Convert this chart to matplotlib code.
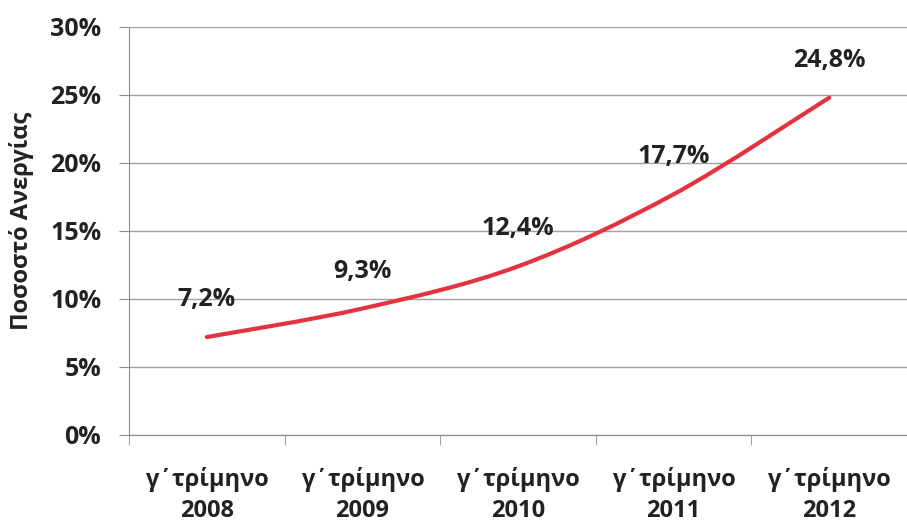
import numpy as np
import matplotlib
matplotlib.use('Agg')
import matplotlib.pyplot as plt
from matplotlib.path import Path
from matplotlib.patches import PathPatch

plt.rcParams['font.family'] = ['Open Sans', 'DejaVu Sans']

# data
quarters = ['γ΄τρίμηνο\n2008', 'γ΄τρίμηνο\n2009', 'γ΄τρίμηνο\n2010',
            'γ΄τρίμηνο\n2011', 'γ΄τρίμηνο\n2012']
rates = [7.2, 9.3, 12.4, 17.7, 24.8]
rate_labels = ['7,2%', '9,3%', '12,4%', '17,7%', '24,8%']
yticks = [0, 5, 10, 15, 20, 25, 30]

fig = plt.figure(figsize=(9.07, 5.24), dpi=100)
ax = fig.add_axes([129 / 907, 89 / 524, 1 - 129 / 907, 408 / 524])

x = np.arange(len(rates))
y = np.array(rates)

# smoothed line (bezier through the data points, like Excel's smoothing)
verts = [(x[0], y[0])]
codes = [Path.MOVETO]
t = 1 / 6
for i in range(len(x) - 1):
    p0 = (x[max(i - 1, 0)], y[max(i - 1, 0)])
    p1 = (x[i], y[i])
    p2 = (x[i + 1], y[i + 1])
    p3 = (x[min(i + 2, len(x) - 1)], y[min(i + 2, len(x) - 1)])
    c1 = (p1[0] + (p2[0] - p0[0]) * t, p1[1] + (p2[1] - p0[1]) * t)
    c2 = (p2[0] - (p3[0] - p1[0]) * t, p2[1] - (p3[1] - p1[1]) * t)
    verts += [c1, c2, p2]
    codes += [Path.CURVE4] * 3
ax.add_patch(PathPatch(Path(verts, codes), fill=False, edgecolor='#e5323f',
                       lw=3, capstyle='round', zorder=3))

for xi, yi, lab in zip(x, y, rate_labels):
    ax.annotate(lab, (xi, yi), xytext=(0, 27), textcoords='offset points',
                ha='center', va='center', fontsize=18, fontweight='bold',
                color='#222222')

ax.set_xlim(-0.5, 4.455)
ax.set_ylim(0, 30)
ax.set_yticks(yticks)
ax.set_yticklabels([f'{v}%' for v in yticks])
ax.set_xticks(x)
ax.set_xticklabels(quarters)
ax.set_xticks(np.arange(-0.5, 5, 1), minor=True)

ax.grid(axis='y', color='#a0a0a0', lw=1)
ax.set_axisbelow(True)
for s in ['top', 'right']:
    ax.spines[s].set_visible(False)
for s in ['left', 'bottom']:
    ax.spines[s].set_color('#8c8c8c')
ax.tick_params(axis='y', length=7, color='#8c8c8c', labelsize=18,
               labelcolor='#222222', pad=13)
ax.tick_params(axis='x', which='major', length=0, labelsize=17,
               labelcolor='#222222', pad=23)
ax.tick_params(axis='x', which='minor', length=7, color='#8c8c8c')
for lab in ax.get_yticklabels() + ax.get_xticklabels():
    lab.set_fontweight('bold')
for lab in ax.get_xticklabels():
    lab.set_linespacing(1.4)

ax.set_ylabel('Ποσοστό Ανεργίας', fontsize=17, fontweight='bold',
              color='#222222')
ax.yaxis.set_label_coords(-0.122, 0.525)

fig.savefig('out.png', dpi=100)
